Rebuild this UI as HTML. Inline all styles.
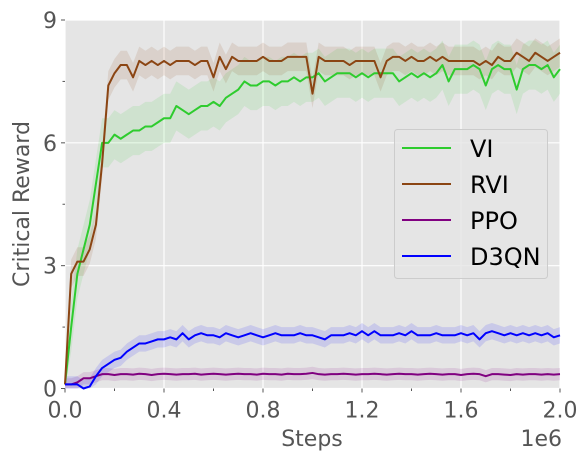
<!DOCTYPE html>
<html><head><meta charset="utf-8"><style>
body{margin:0;background:#fff;}
svg{display:block;font-family:"DejaVu Sans","Liberation Sans",sans-serif;}
</style></head><body>
<svg id="chart" width="588" height="462">
<rect x="65" y="20" width="495" height="368.5" fill="#e5e5e5"/>
<g id="grid"></g><g id="bands"></g><g id="lines"></g><g id="axes"></g>
<text x="312" y="446" font-size="22" fill="#555" text-anchor="middle">Steps</text>
<text x="562" y="446" font-size="22" fill="#555" text-anchor="end">1e6</text>
<text transform="translate(29,204) rotate(-90)" font-size="22" fill="#555" text-anchor="middle">Critical Reward</text>
<g>
<rect x="394.5" y="129.5" width="153" height="149" rx="3" fill="#e5e5e5" fill-opacity="0.8" stroke="#ccc"/>
<g id="legend"></g>
</g>
</svg>
<script>
const xs=[];for(let i=0;i<=80;i++)xs.push(i*0.025);
const xTicks=[0,0.4,0.8,1.2,1.6,2.0];
const xTickLabels=["0.0","0.4","0.8","1.2","1.6","2.0"];
const xMinor=[0.2,0.6,1.0,1.4,1.8];
const yTicks=[0,3,6,9];
const yTickLabels=["0","3","6","9"];
const yMinor=[1.5,4.5,7.5];
const seriesNames=["VI","RVI","PPO","D3QN"];
const seriesColors=["#2ecc2e","#8b4513","#800080","#0000ff"];
const viValues=[0.1,1.5,2.8,3.4,4.0,5.0,6.0,6.0,6.2,6.1,6.2,6.3,6.3,6.4,6.4,6.5,6.6,6.6,6.9,6.8,6.7,6.8,6.9,6.9,7.0,6.9,7.1,7.2,7.3,7.5,7.4,7.4,7.5,7.5,7.4,7.5,7.5,7.6,7.5,7.6,7.6,7.7,7.5,7.6,7.7,7.7,7.7,7.6,7.7,7.6,7.7,7.7,7.7,7.7,7.5,7.6,7.7,7.6,7.7,7.6,7.7,7.9,7.5,7.8,7.8,7.8,7.9,7.8,7.4,7.8,7.9,7.8,7.8,7.3,7.8,7.9,7.9,7.8,7.9,7.6,7.8];
const rviValues=[0.1,2.8,3.1,3.1,3.4,4.0,5.5,7.4,7.7,7.9,7.9,7.6,8.0,7.9,8.0,7.9,8.0,7.9,8.0,8.0,8.0,7.9,8.0,8.0,7.6,8.1,7.8,8.1,8.0,8.0,8.0,8.0,8.1,8.0,8.0,8.0,8.1,8.1,8.1,8.1,7.2,8.1,8.0,8.0,8.0,8.0,7.9,8.0,8.0,8.0,8.0,7.6,8.0,8.1,8.1,8.0,8.1,8.0,8.0,8.1,8.0,8.1,8.0,8.0,8.0,8.0,8.0,7.9,8.0,7.9,8.1,8.0,8.0,8.2,8.1,8.0,8.2,8.1,8.0,8.1,8.2];
const ppoValues=[0.1,0.1,0.15,0.25,0.25,0.3,0.35,0.35,0.33,0.35,0.35,0.34,0.36,0.35,0.33,0.35,0.36,0.35,0.34,0.35,0.35,0.36,0.34,0.35,0.36,0.35,0.34,0.35,0.36,0.35,0.35,0.34,0.36,0.35,0.35,0.34,0.36,0.35,0.35,0.36,0.38,0.35,0.34,0.35,0.35,0.36,0.35,0.34,0.35,0.35,0.36,0.35,0.34,0.35,0.36,0.35,0.35,0.34,0.35,0.36,0.35,0.34,0.35,0.35,0.33,0.35,0.36,0.35,0.3,0.35,0.35,0.34,0.33,0.35,0.34,0.35,0.35,0.34,0.35,0.34,0.35];
const d3qnValues=[0.1,0.1,0.1,0.0,0.05,0.3,0.5,0.6,0.7,0.75,0.9,1.0,1.1,1.1,1.15,1.2,1.2,1.25,1.2,1.35,1.2,1.3,1.35,1.3,1.3,1.25,1.35,1.3,1.25,1.3,1.35,1.3,1.25,1.3,1.35,1.3,1.3,1.3,1.35,1.3,1.3,1.25,1.2,1.3,1.3,1.3,1.35,1.3,1.4,1.3,1.4,1.3,1.3,1.3,1.35,1.3,1.4,1.3,1.3,1.3,1.35,1.3,1.3,1.3,1.35,1.3,1.35,1.2,1.35,1.4,1.35,1.3,1.35,1.3,1.35,1.3,1.35,1.3,1.35,1.25,1.3];
const seriesValues=[viValues,rviValues,ppoValues,d3qnValues];
const seriesSpread=[0.6,0.35,0.15,0.2];
const X0=65,X1=560,Y0=388.5,Y1=20;
const sx=v=>X0+(v-0)/(2.0-0)*(X1-X0);
const sy=v=>Y0-(v-0)/(9-0)*(Y0-Y1);
const NS="http://www.w3.org/2000/svg";
function mk(t,a,p){const e=document.createElementNS(NS,t);for(const k in a)e.setAttribute(k,a[k]);p.appendChild(e);return e;}
const grid=document.getElementById('grid'),axes=document.getElementById('axes');
xTicks.forEach((t,i)=>{
  const g=mk('line',{x1:sx(t),x2:sx(t),y1:Y1,y2:Y0,stroke:'#fff','stroke-width':1.2},grid);
  
  
  mk('line',{x1:sx(t),x2:sx(t),y1:Y0,y2:Y0+4,stroke:'#555'},axes);
  const l=mk('text',{x:sx(t),y:Y0+29,'font-size':22,fill:'#555','text-anchor':'middle'},axes);
  l.textContent=xTickLabels[i];
  
  
});
xMinor.forEach(t=>{mk('line',{x1:sx(t),x2:sx(t),y1:Y0,y2:Y0+2.5,stroke:'#555'},axes);});
yTicks.forEach((t,i)=>{
  const g=mk('line',{x1:X0,x2:X1,y1:sy(t),y2:sy(t),stroke:'#fff','stroke-width':1.2},grid);
  
  
  mk('line',{x1:X0-4,x2:X0,y1:sy(t),y2:sy(t),stroke:'#555'},axes);
  const l=mk('text',{x:X0-8,y:sy(t)+8,'font-size':22,fill:'#555','text-anchor':'end'},axes);
  l.textContent=yTickLabels[i];
  
  
});
yMinor.forEach(t=>{mk('line',{x1:X0-2.5,x2:X0,y1:sy(t),y2:sy(t),stroke:'#555'},axes);});
const bands=document.getElementById('bands'),lines=document.getElementById('lines'),leg=document.getElementById('legend');
seriesValues.forEach((vals,s)=>{
  const sp=seriesSpread[s];
  let up=vals.map((v,i)=>sx(xs[i])+','+sy(Math.min(9,v+sp))).join(' ');
  let dn=vals.map((v,i)=>sx(xs[i])+','+sy(Math.max(0,v-sp))).reverse().join(' ');
  const b=mk('polygon',{points:up+' '+dn,fill:seriesColors[s],'fill-opacity':0.12},bands);
  
  
  const p=mk('polyline',{points:vals.map((v,i)=>sx(xs[i])+','+sy(v)).join(' '),fill:'none',stroke:seriesColors[s],'stroke-width':2,'stroke-linejoin':'round'},lines);
  
  
  const ly=148+s*36;
  const ll=mk('line',{x1:402,x2:451,y1:ly,y2:ly,stroke:seriesColors[s],'stroke-width':2},leg);
  
  
  const lt=mk('text',{x:470,y:ly+9,'font-size':24,fill:'#000'},leg);
  lt.textContent=seriesNames[s];
  
  
});
</script>
</body></html>
